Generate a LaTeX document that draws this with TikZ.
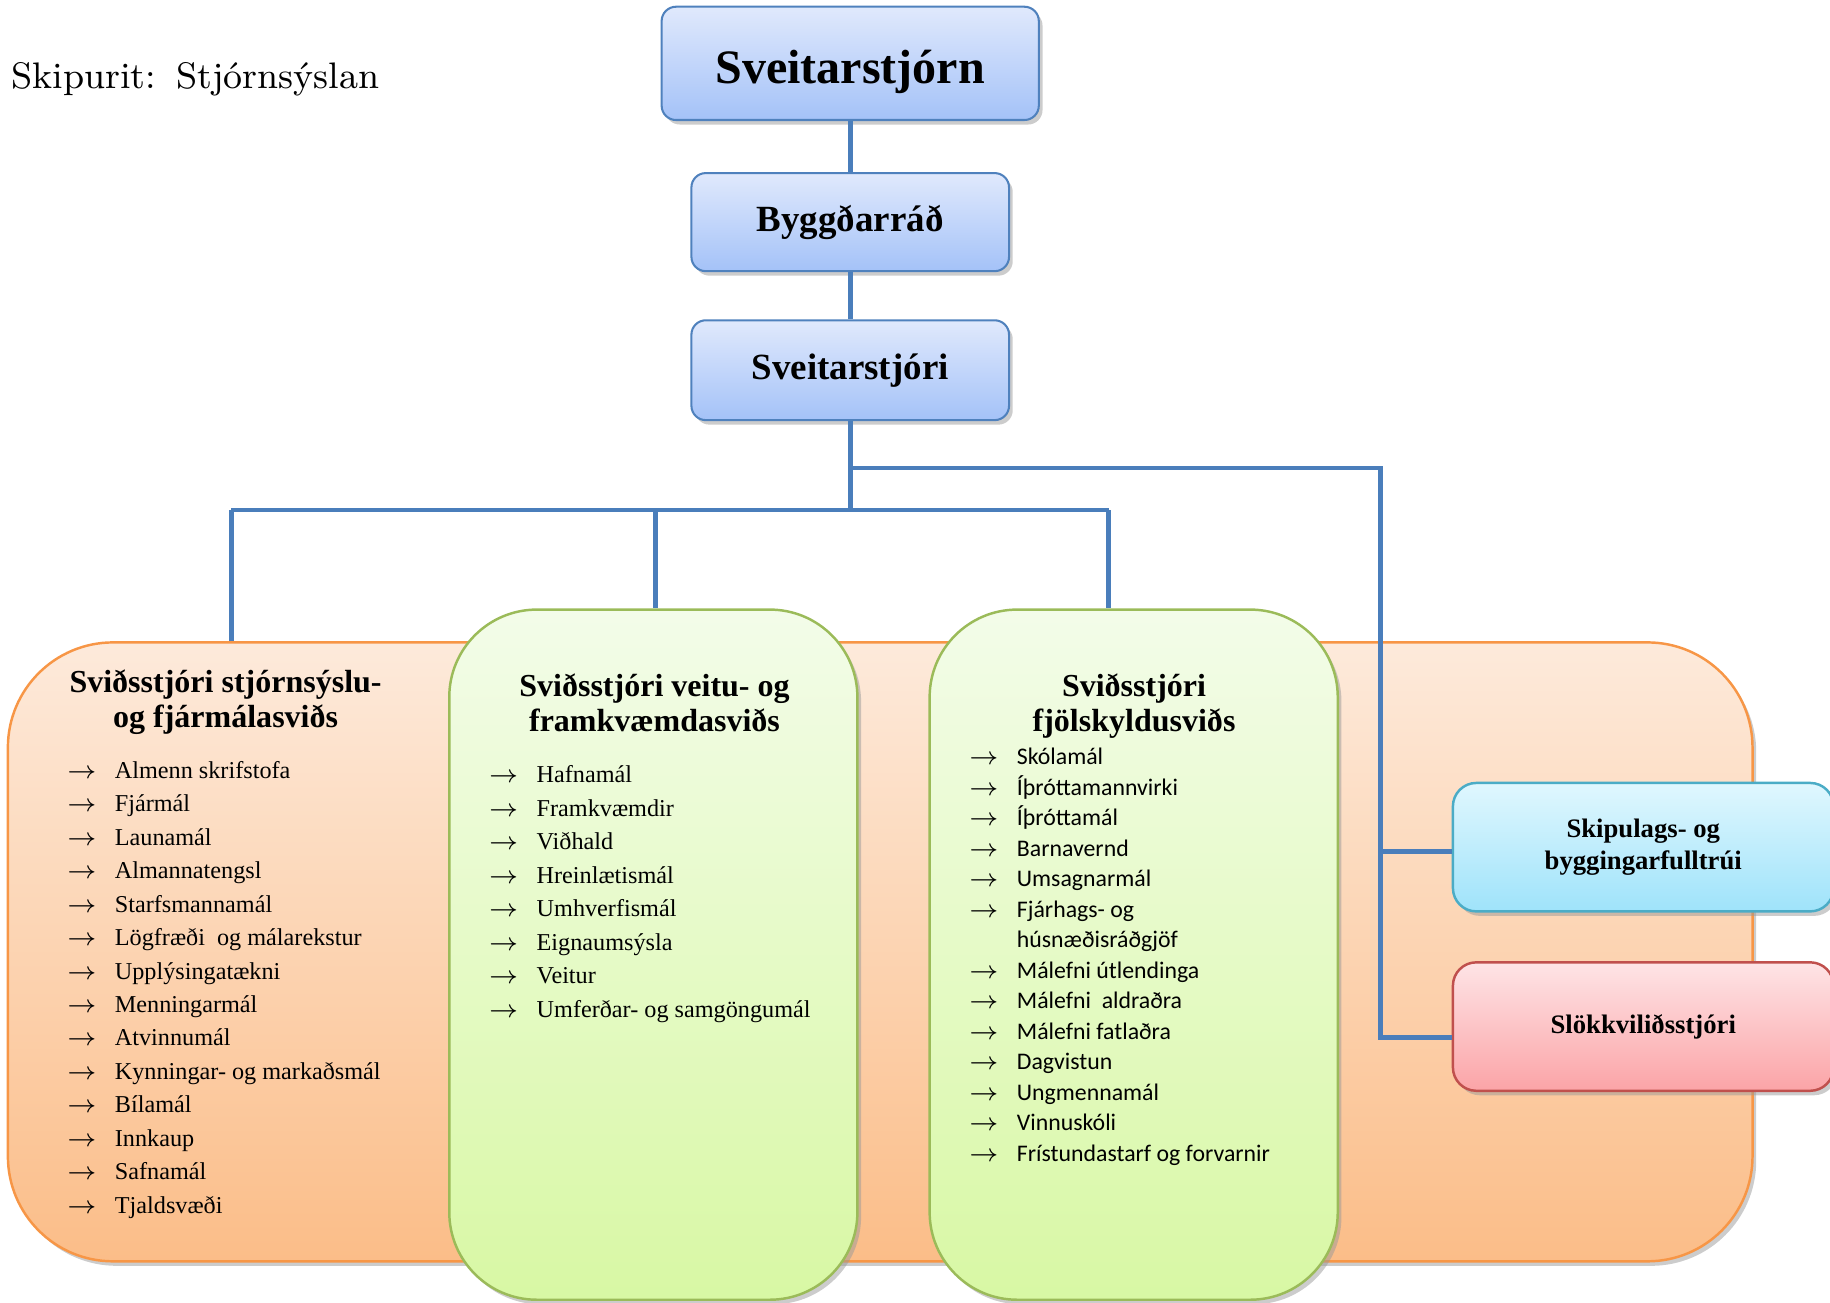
\documentclass[tikz,border=0pt]{standalone}
\usepackage{fontspec}
\usepackage{amsmath}
\usepackage{xcolor}
\usepackage{tikz}
\usetikzlibrary{calc, positioning, shadows}
\newfontfamily\timesfont{Liberation Serif}
\newfontfamily\calibrifont{Carlito}

\definecolor{tengiblue}{HTML}{4A7EBB}
\definecolor{blarammi}{HTML}{4F81BD}
\definecolor{blatop}{HTML}{E0E9FC}
\definecolor{blabot}{HTML}{A4C2F8}
\definecolor{appelsrammi}{HTML}{F79646}
\definecolor{appelstop}{HTML}{FDEADB}
\definecolor{appelsbot}{HTML}{FBBD88}
\definecolor{graennrammi}{HTML}{9BBB59}
\definecolor{graenntop}{HTML}{F3FCE9}
\definecolor{graennbot}{HTML}{D8F8A4}
\definecolor{tuerkrammi}{HTML}{4BACC6}
\definecolor{tuerktop}{HTML}{E0F7FE}
\definecolor{tuerkbot}{HTML}{9FE3FA}
\definecolor{raudrammi}{HTML}{C0504D}
\definecolor{raudtop}{HTML}{FEE4E6}
\definecolor{raudbot}{HTML}{FBA4A7}

\newcommand{\ori}{\makebox[11.7pt][l]{$\rightarrow$}}

\tikzset{
  skuggi/.style={drop shadow={shadow xshift=0.9pt, shadow yshift=-1.1pt, fill=black!40}},
  efst/.style={draw=blarammi, line width=0.5pt, rounded corners=3.5pt, top color=blatop, bottom color=blabot, skuggi, text centered, inner sep=0pt},
  svid/.style={line width=0.6pt, skuggi, inner sep=0pt},
  lina/.style={line width=1.2pt, draw=tengiblue},
  listi/.style={anchor=base west, align=left, inner sep=0pt, font=\timesfont\fontsize{5.9}{8.15}\selectfont},
  haus/.style={anchor=base, align=center, inner sep=0pt, font=\timesfont\bfseries\fontsize{7.8}{8.7}\selectfont},
}

\begin{document}
\begin{tikzpicture}
              [x=0.01cm, y=-0.01cm]
              \useasboundingbox (0,0) rectangle (1568,1116);
              % nodes %
              \node[anchor=base west, inner sep=0pt, font=\fontsize{9}{11}\selectfont] (titill) at (9,75.7) {Skipurit:\hspace{5pt}Stjórnsýslan};
              \node[efst, minimum width=3.23cm, minimum height=0.97cm, text height=10pt, text depth=0pt, font=\timesfont\bfseries\fontsize{11.7}{13}\selectfont] (stjorn) at (728.5,54.3) {Sveitarstjórn};
              \node[efst, below=0.437cm of stjorn, minimum width=2.72cm, minimum height=0.84cm, font=\timesfont\bfseries\fontsize{9}{11}\selectfont] (radid) {Byggðarráð};
              \node[efst, below=0.403cm of radid, minimum width=2.72cm, minimum height=0.855cm, font=\timesfont\bfseries\fontsize{9}{11}\selectfont] (stjori) {Sveitarstjóri};

              \node[svid, draw=appelsrammi, top color=appelstop, bottom color=appelsbot, rounded corners=0.9cm, minimum width=14.94cm, minimum height=5.30cm] (sv0) at (754.2,815.6) {};
              \node[svid, draw=graennrammi, top color=graenntop, bottom color=graennbot, rounded corners=0.75cm, minimum width=3.495cm, minimum height=5.91cm] (sv1) at (559.8,818) {};
              \node[svid, draw=graennrammi, top color=graenntop, bottom color=graennbot, rounded corners=0.75cm, minimum width=3.495cm, minimum height=5.91cm] (sv2) at (971.4,818) {};
              \node[svid, draw=tuerkrammi, top color=tuerktop, bottom color=tuerkbot, rounded corners=0.2cm, minimum width=3.26cm, minimum height=1.10cm, align=center, font=\timesfont\bfseries\fontsize{6.5}{7.7}\selectfont] (skipul) at (1408,725.9) {Skipulags- og\\byggingarfulltrúi};
              \node[svid, draw=raudrammi, top color=raudtop, bottom color=raudbot, rounded corners=0.2cm, minimum width=3.26cm, minimum height=1.10cm, font=\timesfont\bfseries\fontsize{6.5}{7.7}\selectfont] (slokk) at (1408,879.6) {Slökkviliðsstjóri};

              % headers and lists (placed at the base of their last line) %
              \node[haus] (haus0) at (193.3,623.6) {Sviðsstjóri stjórnsýslu-\\og fjármálasviðs};
              \node[haus] (haus1) at (560.8,627) {Sviðsstjóri veitu- og\\framkvæmdasviðs};
              \node[haus] (haus2) at (971.7,627) {Sviðsstjóri\\fjölskyldusviðs};

              \node[listi] (listi0) at (56.6,1039.5) {\ori Almenn skrifstofa\\ \ori Fjármál\\ \ori Launamál\\ \ori Almannatengsl\\ \ori Starfsmannamál\\ \ori Lögfræði\ \ og málarekstur\\ \ori Upplýsingatækni\\ \ori Menningarmál\\ \ori Atvinnumál\\ \ori Kynningar- og markaðsmál\\ \ori Bílamál\\ \ori Innkaup\\ \ori Safnamál\\ \ori Tjaldsvæði};
              \node[listi] (listi1) at (418,871.5) {\ori Hafnamál\\ \ori Framkvæmdir\\ \ori Viðhald\\ \ori Hreinlætismál\\ \ori Umhverfismál\\ \ori Eignaumsýsla\\ \ori Veitur\\ \ori Umferðar- og samgöngumál};
              \node[listi, font=\calibrifont\fontsize{5.8}{7.43}\selectfont] (listi2) at (829.5,995) {\ori Skólamál\\ \ori Íþróttamannvirki\\ \ori Íþróttamál\\ \ori Barnavernd\\ \ori Umsagnarmál\\ \ori Fjárhags- og\\ \makebox[11.7pt]{}húsnæðisráðgjöf\\ \ori Málefni útlendinga\\ \ori Málefni\ \ aldraðra\\ \ori Málefni fatlaðra\\ \ori Dagvistun\\ \ori Ungmennamál\\ \ori Vinnuskóli\\ \ori Frístundastarf og forvarnir};

              \coordinate (kvisl) at (728.5,401);
              \coordinate (slaa) at (728.5,437);
              \coordinate (vinstri) at (198,437);
              \coordinate (midja) at (562,437);
              \coordinate (haegri) at (950,437);
              \coordinate (horn) at (1182.5,401);
              \coordinate (skipinn) at ($(skipul.west)+(0,3.6)$);
              \coordinate (slokkinn) at ($(slokk.west)+(0,9.6)$);

              % edges %
              \draw[lina] (stjorn) -- (radid);
              \draw[lina] (radid) -- (stjori);
              \draw[lina] (stjori) -- (slaa);
              \draw[lina] (vinstri) -- (haegri);
              \draw[lina] (vinstri) -- (vinstri |- sv0.north);
              \draw[lina] (midja) -- (midja |- sv1.north);
              \draw[lina] (haegri) -- (haegri |- sv2.north);
              \draw[lina] (kvisl) -- (horn) |- (slokkinn);
              \draw[lina] (horn |- skipinn) -- (skipinn);
            \end{tikzpicture}
\end{document}
